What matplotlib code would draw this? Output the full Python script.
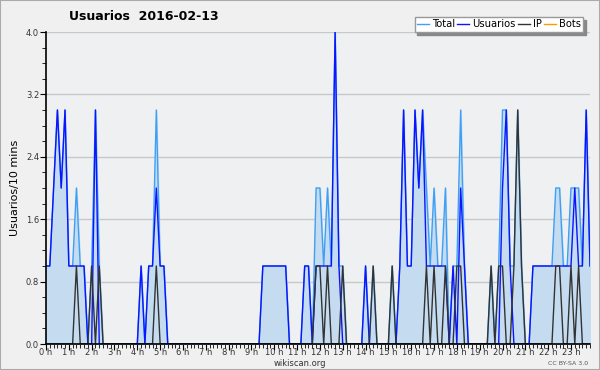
import matplotlib
matplotlib.use("Agg")
import matplotlib.pyplot as plt
from matplotlib.ticker import MultipleLocator
import numpy as np

# 10 minute bins over the day (144 values)
usuarios = [1, 1, 2, 3, 2, 3, 1, 1, 1, 1, 1, 0, 0, 3, 0, 0, 0, 0, 0, 0,
            0, 0, 0, 0, 0, 1, 0, 1, 1, 2, 1, 1, 0, 0, 0, 0, 0, 0, 0, 0,
            0, 0, 0, 0, 0, 0, 0, 0, 0, 0, 0, 0, 0, 0, 0, 0, 0, 1, 1, 1,
            1, 1, 1, 1, 0, 0, 0, 0, 1, 1, 0, 1, 1, 1, 1, 1, 4, 1, 0, 0,
            0, 0, 0, 0, 1, 0, 0, 0, 0, 0, 0, 0, 0, 1, 3, 1, 1, 3, 2, 3,
            1, 1, 1, 1, 1, 1, 0, 1, 0, 2, 1, 0, 0, 0, 0, 0, 0, 0, 0, 0,
            2, 3, 1, 0, 0, 0, 0, 0, 1, 1, 1, 1, 1, 1, 1, 1, 1, 1, 1, 2,
            1, 1, 3, 1]
ip = [0, 0, 0, 0, 0, 0, 0, 0, 1, 0, 0, 0, 1, 0, 1, 0, 0, 0, 0, 0,
      0, 0, 0, 0, 0, 0, 0, 0, 0, 1, 0, 0, 0, 0, 0, 0, 0, 0, 0, 0,
      0, 0, 0, 0, 0, 0, 0, 0, 0, 0, 0, 0, 0, 0, 0, 0, 0, 0, 0, 0,
      0, 0, 0, 0, 0, 0, 0, 0, 0, 0, 0, 1, 1, 0, 1, 0, 0, 0, 1, 0,
      0, 0, 0, 0, 0, 0, 1, 0, 0, 0, 0, 1, 0, 0, 0, 0, 0, 0, 0, 0,
      1, 0, 1, 0, 0, 1, 0, 0, 1, 1, 0, 0, 0, 0, 0, 0, 0, 1, 0, 1,
      1, 0, 0, 1, 3, 1, 0, 0, 0, 0, 0, 0, 0, 0, 1, 1, 0, 0, 1, 0,
      1, 0, 0, 0]
bots = [0] * 144
total = [u + p + b for u, p, b in zip(usuarios, ip, bots)]
hour_labels = ["%d h" % h for h in range(24)]

x = np.arange(len(total))

fig = plt.figure(figsize=(6, 3.7), dpi=100, facecolor="#f0f0f0")
ax = fig.add_axes([46 / 600, 1 - 344 / 370, 544 / 600, 312 / 370])
ax.set_facecolor("#eef0f2")

ax.plot(x, bots, color="#ff9900", lw=1, zorder=1, label="Bots")
ax.fill_between(x, total, color="#c5dcf0", zorder=2)
ax.plot(x, total, color="#3ea0f5", lw=1, zorder=3, label="Total")
ax.plot(x, usuarios, color="#0a14ff", lw=1, zorder=4, label="Usuarios")
ax.plot(x, ip, color="#333333", lw=1, zorder=5, label="IP")

ax.set_xlim(0, 143)
ax.set_ylim(0, 4.0)
ax.set_xticks(np.arange(0, 144, 6))
ax.set_xticklabels(hour_labels)
ax.xaxis.set_minor_locator(MultipleLocator(1))
ax.set_yticks(np.arange(0, 4.01, 0.8))
ax.set_yticklabels(["%.1f" % v for v in np.arange(0, 4.01, 0.8)])
ax.yaxis.set_minor_locator(MultipleLocator(0.2))
ax.grid(axis="y", color="#c8c8c8", lw=1)
ax.set_axisbelow(True)
ax.tick_params(axis="both", which="both", direction="out", color="black",
               labelsize=6, labelcolor="#333333", pad=1)
ax.tick_params(axis="both", which="major", length=4)
ax.tick_params(axis="both", which="minor", length=3)
ax.tick_params(axis="x", which="major", pad=-1)
for s in ["top", "right"]:
    ax.spines[s].set_visible(False)
for s in ["left", "bottom"]:
    ax.spines[s].set_linewidth(1.2)
    ax.spines[s].set_zorder(6)

ax.set_ylabel("Usuarios/10 mins", fontsize=8, labelpad=4)

fig.text(0.24, 0.955, "Usuarios  2016-02-13", ha="center", va="center",
         fontsize=9, weight="bold")

handles, labels = ax.get_legend_handles_labels()
order = [1, 2, 3, 0]
leg = fig.legend([handles[i] for i in order], [labels[i] for i in order],
                 ncol=4, loc="upper right", bbox_to_anchor=(0.98, 0.968),
                 fontsize=7.2, handlelength=1.2, handletextpad=0.3,
                 columnspacing=0.2, borderpad=0.25, fancybox=False,
                 shadow={"color": "#888888", "alpha": 1}, framealpha=1,
                 edgecolor="#999999")
leg.get_frame().set_linewidth(1)

fig.text(0.5, 0.017, "wikiscan.org", ha="center", va="center", fontsize=6,
         color="#333333")
fig.text(0.98, 0.017, "CC BY-SA 3.0", ha="right", va="center", fontsize=4.5,
         color="#555555")

fig.patches.append(plt.Rectangle((0, 0), 1, 1, transform=fig.transFigure,
                                 fill=False, edgecolor="#aaaaaa", lw=1.5))

fig.savefig("out.png", dpi=100, facecolor=fig.get_facecolor())
